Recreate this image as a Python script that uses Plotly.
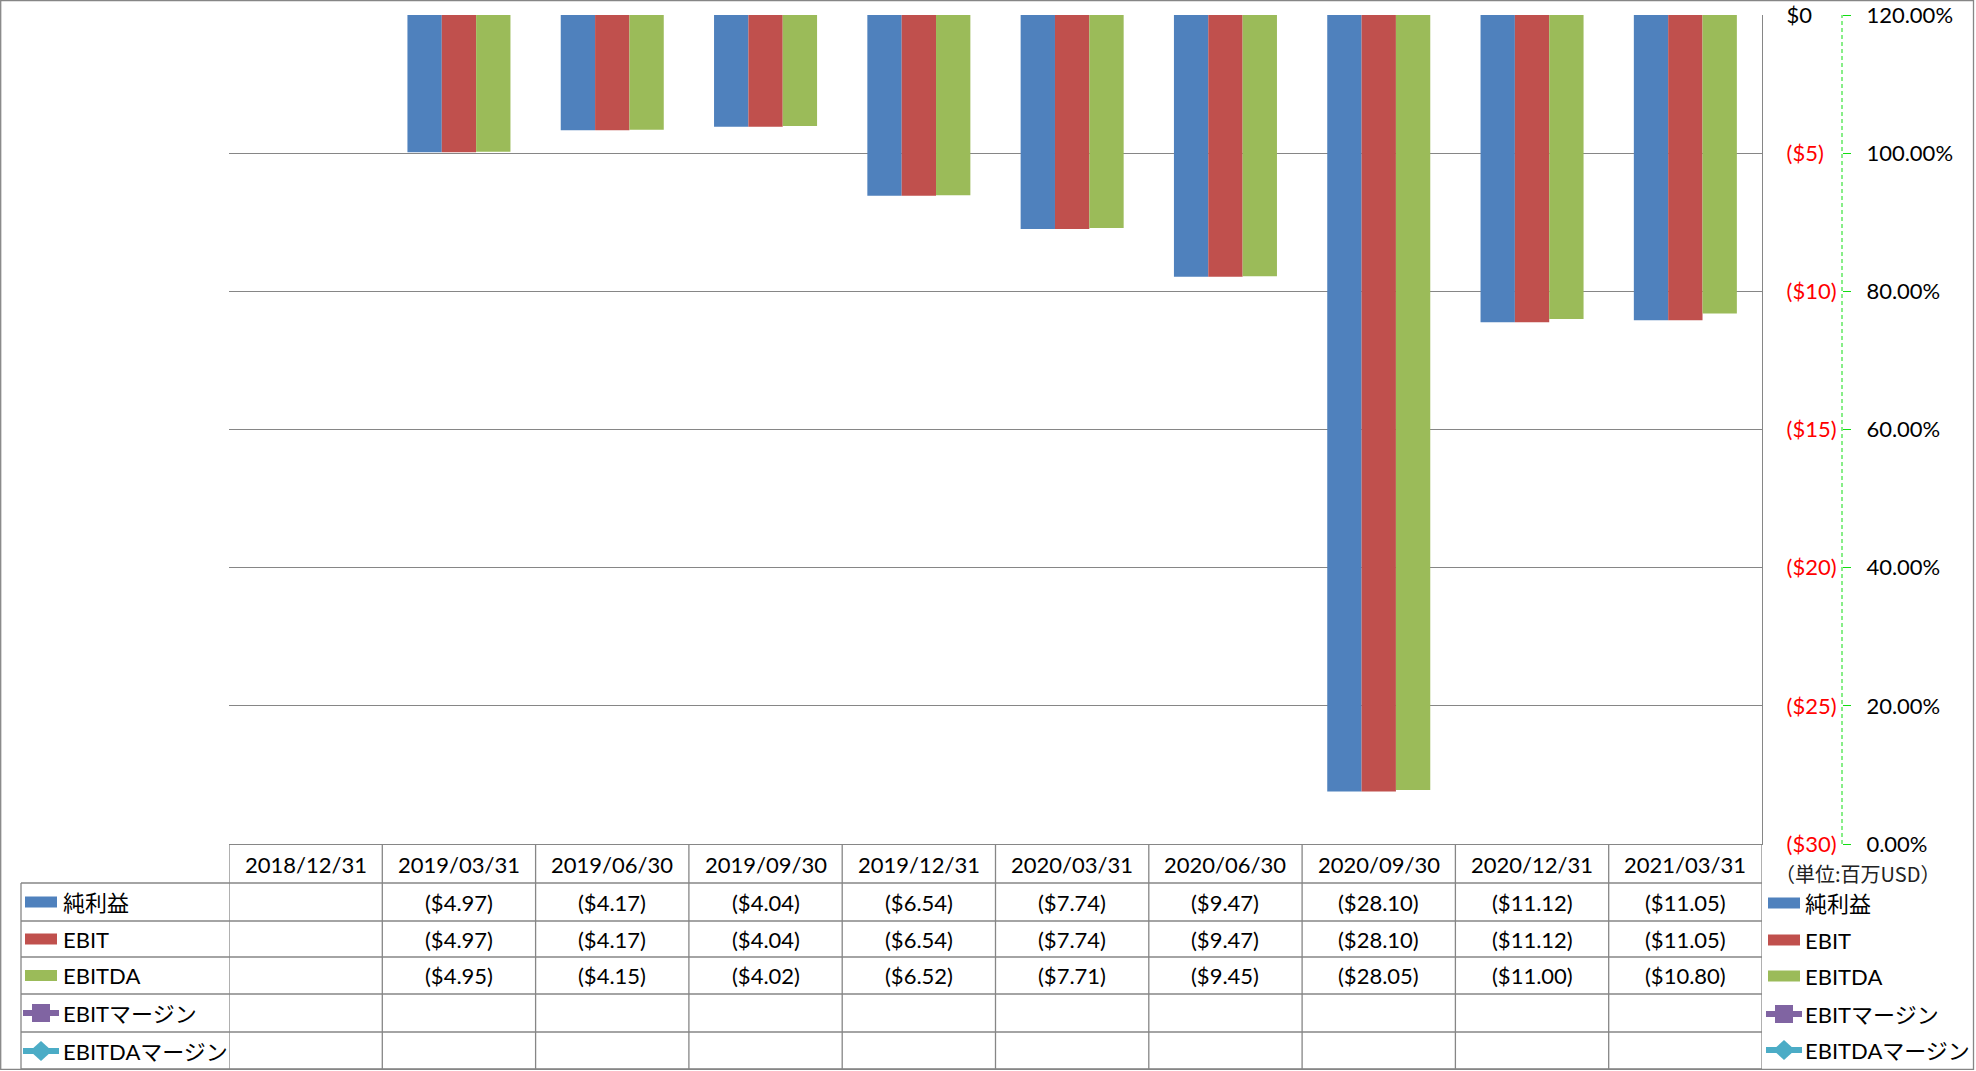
import plotly.graph_objects as go

W, H = 1976, 1071

categories = ["2018/12/31", "2019/03/31", "2019/06/30", "2019/09/30", "2019/12/31",
              "2020/03/31", "2020/06/30", "2020/09/30", "2020/12/31", "2021/03/31"]
net_income = [None, -4.97, -4.17, -4.04, -6.54, -7.74, -9.47, -28.10, -11.12, -11.05]
ebit = [None, -4.97, -4.17, -4.04, -6.54, -7.74, -9.47, -28.10, -11.12, -11.05]
ebitda = [None, -4.95, -4.15, -4.02, -6.52, -7.71, -9.45, -28.05, -11.00, -10.80]
ebit_margin = [None] * 10
ebitda_margin = [None] * 10

series_names = ["純利益", "EBIT", "EBITDA", "EBITマージン", "EBITDAマージン"]
colors = ["#4F81BD", "#C0504D", "#9BBB59", "#8064A2", "#4BACC6"]

y_ticks = [0, -5, -10, -15, -20, -25, -30]
y2_ticks = [0, 0.2, 0.4, 0.6, 0.8, 1.0, 1.2]
unit_label = "（単位:百万USD）"

FONT = "Lato, 'Noto Sans CJK JP', sans-serif"
GRID = "#868686"


def X(px):
    return px / W


def Y(py):
    return 1 - py / H


def money(v):
    if v is None:
        return ""
    if v < 0:
        return f"(${abs(v):.2f})"
    return f"${v:.2f}"


def money_tick(v):
    if v < 0:
        return f'<span style="color:#FF0000">(${abs(v):.0f})</span>'
    return f"${v:.0f}"


fig = go.Figure()
for name, vals, col in zip(series_names[:3], [net_income, ebit, ebitda], colors[:3]):
    fig.add_trace(go.Bar(x=categories, y=vals, name=name, marker=dict(color=col, line=dict(width=0)),
                         showlegend=False))
for name, vals, col, sym in zip(series_names[3:], [ebit_margin, ebitda_margin], colors[3:],
                                ["square", "diamond"]):
    fig.add_trace(go.Scatter(x=categories, y=vals, name=name, yaxis="y2", mode="lines+markers",
                             line=dict(color=col, width=4), marker=dict(symbol=sym, size=12, color=col),
                             showlegend=False))

fig.update_layout(
    width=W, height=H,
    margin=dict(l=0, r=0, t=0, b=0, autoexpand=False),
    paper_bgcolor="white", plot_bgcolor="white",
    barmode="group", bargap=0.328, bargroupgap=0,
    font=dict(family=FONT, size=22, color="#000000"),
    xaxis=dict(domain=[X(229), X(1762)], range=[-0.5, 9.5], type="category", automargin=False,
               showticklabels=False, ticks="", showgrid=False, zeroline=False,
               showline=True, linecolor=GRID, linewidth=1.3),
    yaxis=dict(domain=[Y(844), Y(15)], range=[-30, 0], side="right", automargin=False,
               tickvals=y_ticks, ticktext=[money_tick(v) for v in y_ticks],
               showgrid=True, gridcolor=GRID, gridwidth=1.3, zeroline=False,
               showline=True, linecolor=GRID, linewidth=1.3, ticks="",
               ticklabelstandoff=19, tickfont=dict(size=22, family=FONT, color="#000000")),
    yaxis2=dict(overlaying="y", side="right", anchor="free", position=X(1842), automargin=False,
                range=[0, 1.2], tickvals=y2_ticks, tickformat=".2%",
                showgrid=False, zeroline=False, showline=False,
                ticks="outside", ticklen=8, tickcolor="#11DD11", tickwidth=1,
                ticklabelstandoff=11, tickfont=dict(size=22, family=FONT, color="#000000")),
)

shapes = []
line = dict(color=GRID, width=1.3)
# outer border
shapes.append(dict(type="rect", xref="paper", yref="paper", x0=X(0.7), x1=X(1973.5), y0=Y(1069.3), y1=Y(0.7),
                   line=line, fillcolor="rgba(0,0,0,0)", layer="above"))
# dashed secondary axis line
shapes.append(dict(type="line", xref="paper", yref="paper", x0=X(1842), x1=X(1842), y0=Y(844), y1=Y(15),
                   line=dict(color="#11DD11", width=1, dash="4px,3px")))
# table horizontal lines
for py in [883, 921, 957, 994, 1032, 1069]:
    shapes.append(dict(type="line", xref="paper", yref="paper", x0=X(21), x1=X(1762), y0=Y(py), y1=Y(py),
                       line=line))
# table vertical lines
shapes.append(dict(type="line", xref="paper", yref="paper", x0=X(21), x1=X(21), y0=Y(883), y1=Y(1069),
                   line=line))
for k in range(len(categories) + 1):
    shapes.append(dict(type="line", xref="x", yref="paper", x0=k - 0.5, x1=k - 0.5, y0=Y(844), y1=Y(1069),
                       line=line))

annotations = []
row_centers = [902, 939, 975.5, 1013, 1051]
# header dates
for c in categories:
    annotations.append(dict(xref="x", yref="paper", x=c, y=Y(864), text=c, showarrow=False,
                            xanchor="center", yanchor="middle", font=dict(size=22, family=FONT)))
# values
for vals, rc in zip([net_income, ebit, ebitda, ebit_margin, ebitda_margin], row_centers):
    for c, v in zip(categories, vals):
        if v is None:
            continue
        annotations.append(dict(xref="x", yref="paper", x=c, y=Y(rc), text=money(v), showarrow=False,
                                xanchor="center", yanchor="middle", font=dict(size=22, family=FONT)))


def legend_key(i, cx, cy):
    col = colors[i]
    if i < 3:
        shapes.append(dict(type="rect", xref="paper", yref="paper", x0=X(cx - 16), x1=X(cx + 16),
                           y0=Y(cy + 5.5), y1=Y(cy - 5.5), line=dict(width=0), fillcolor=col))
    else:
        shapes.append(dict(type="line", xref="paper", yref="paper", x0=X(cx - 18), x1=X(cx + 18),
                           y0=Y(cy), y1=Y(cy), line=dict(color=col, width=6)))
        if i == 3:
            shapes.append(dict(type="rect", xref="paper", yref="paper", x0=X(cx - 9), x1=X(cx + 9),
                               y0=Y(cy + 9), y1=Y(cy - 9), line=dict(width=0), fillcolor=col))
        else:
            path = (f"M {X(cx - 11)} {Y(cy)} L {X(cx)} {Y(cy - 10)} L {X(cx + 11)} {Y(cy)} "
                    f"L {X(cx)} {Y(cy + 10)} Z")
            shapes.append(dict(type="path", xref="paper", yref="paper", path=path,
                               line=dict(width=0), fillcolor=col))


# left legend column in the table and right legend
for i, name in enumerate(series_names):
    rc = row_centers[i]
    legend_key(i, 41, rc)
    annotations.append(dict(xref="paper", yref="paper", x=X(61), y=Y(rc), text=name, showarrow=False,
                            xanchor="left", yanchor="middle", font=dict(size=22, family=FONT)))
    rc2 = [903, 940, 976, 1014, 1050][i]
    legend_key(i, 1784, rc2)
    annotations.append(dict(xref="paper", yref="paper", x=X(1803), y=Y(rc2), text=name, showarrow=False,
                            xanchor="left", yanchor="middle", font=dict(size=22, family=FONT)))

annotations.append(dict(xref="paper", yref="paper", x=X(1857), y=Y(873), text=unit_label, showarrow=False,
                        xanchor="center", yanchor="middle",
                        font=dict(size=20, family="'Noto Sans CJK JP', sans-serif", color="#222222")))

fig.update_layout(shapes=shapes, annotations=annotations)
fig.write_html("out.html", config={"displayModeBar": False},
               post_script="document.body.style.margin='0';document.body.style.overflow='hidden';")
